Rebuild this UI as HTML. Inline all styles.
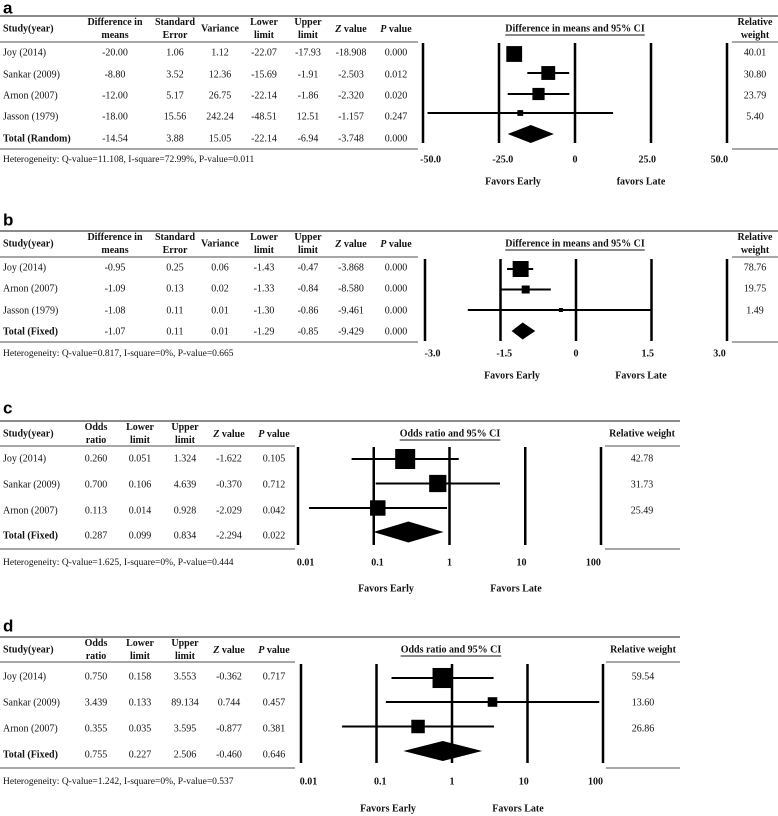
<!DOCTYPE html>
<html><head><meta charset="utf-8">
<style>
html,body{margin:0;padding:0;background:#fff;}
svg{display:block;font-family:"Liberation Serif",serif;}
.t{font-size:10px;fill:#111;}
.h{font-size:10px;font-weight:bold;fill:#111;}
.s{font-size:9.5px;fill:#111;}
.L{font-family:"Liberation Sans",sans-serif;font-weight:bold;font-size:17px;fill:#000;}
</style></head>
<body>
<svg id="fig" width="778" height="816" viewBox="0 0 778 816" xmlns="http://www.w3.org/2000/svg"></svg>
<script>
// ---------- Panel a data ----------
const aStudies=["Joy (2014)","Sankar (2009)","Arnon (2007)","Jasson (1979)","Total (Random)"];
const aDiff=["-20.00","-8.80","-12.00","-18.00","-14.54"];
const aSE=["1.06","3.52","5.17","15.56","3.88"];
const aVar=["1.12","12.36","26.75","242.24","15.05"];
const aLower=["-22.07","-15.69","-22.14","-48.51","-22.14"];
const aUpper=["-17.93","-1.91","-1.86","12.51","-6.94"];
const aZ=["-18.908","-2.503","-2.320","-1.157","-3.748"];
const aP=["0.000","0.012","0.020","0.247","0.000"];
const aWeight=["40.01","30.80","23.79","5.40",""];
const aTicks=[-50,-25,0,25,50];
const aTickLabels=["-50.0","-25.0","0","25.0","50.0"];
const aHetero="Heterogeneity: Q-value=11.108, I-square=72.99%, P-value=0.011";

// ---------- Panel b data ----------
const bStudies=["Joy (2014)","Arnon (2007)","Jasson (1979)","Total (Fixed)"];
const bDiff=["-0.95","-1.09","-1.08","-1.07"];
const bSE=["0.25","0.13","0.11","0.11"];
const bVar=["0.06","0.02","0.01","0.01"];
const bLower=["-1.43","-1.33","-1.30","-1.29"];
const bUpper=["-0.47","-0.84","-0.86","-0.85"];
const bZ=["-3.868","-8.580","-9.461","-9.429"];
const bP=["0.000","0.000","0.000","0.000"];
const bWeight=["78.76","19.75","1.49",""];
// plotted marks
const bPlotPoint=[-1.10,-1.00,-0.30,-1.06];
const bPlotLower=[-1.37,-1.50,-2.15,-1.28];
const bPlotUpper=[-0.85,-0.50,1.50,-0.81];
const bTicks=[-3,-1.5,0,1.5,3];
const bTickLabels=["-3.0","-1.5","0","1.5","3.0"];
const bHetero="Heterogeneity: Q-value=0.817, I-square=0%, P-value=0.665";

// ---------- Panel c data ----------
const cStudies=["Joy (2014)","Sankar (2009)","Arnon (2007)","Total (Fixed)"];
const cOR=["0.260","0.700","0.113","0.287"];
const cLower=["0.051","0.106","0.014","0.099"];
const cUpper=["1.324","4.639","0.928","0.834"];
const cZ=["-1.622","-0.370","-2.029","-2.294"];
const cP=["0.105","0.712","0.042","0.022"];
const cWeight=["42.78","31.73","25.49",""];
const cTicks=[0.01,0.1,1,10,100];
const cTickLabels=["0.01","0.1","1","10","100"];
const cHetero="Heterogeneity: Q-value=1.625, I-square=0%, P-value=0.444";

// ---------- Panel d data ----------
const dStudies=["Joy (2014)","Sankar (2009)","Arnon (2007)","Total (Fixed)"];
const dOR=["0.750","3.439","0.355","0.755"];
const dLower=["0.158","0.133","0.035","0.227"];
const dUpper=["3.553","89.134","3.595","2.506"];
const dZ=["-0.362","0.744","-0.877","-0.460"];
const dP=["0.717","0.457","0.381","0.646"];
const dWeight=["59.54","13.60","26.86",""];
const dTicks=[0.01,0.1,1,10,100];
const dTickLabels=["0.01","0.1","1","10","100"];
const dHetero="Heterogeneity: Q-value=1.242, I-square=0%, P-value=0.537";

const NS="http://www.w3.org/2000/svg";
const svg=document.getElementById('fig');
function mk(tag,attrs,parent){const e=document.createElementNS(NS,tag);for(const k in attrs)e.setAttribute(k,attrs[k]);(parent||svg).appendChild(e);return e;}
function txt(x,y,s,cls,anchor,parent){const e=mk('text',{x:x,y:y,class:cls,'text-anchor':anchor||'middle','dominant-baseline':'central'},parent);e.textContent=s;return e;}

function drawPanel(P){
  const g=mk('g',{});
  
  
  const lt=txt(3,P.letterY,P.id,'L','start',g);
  
  
  mk('line',{x1:0,x2:P.topRight,y1:P.top,y2:P.top,stroke:'#8a8a8a','stroke-width':2},g);
  mk('line',{x1:0,x2:P.tableRight,y1:P.hdrLine,y2:P.hdrLine,stroke:'#8a8a8a','stroke-width':1.5},g);
  mk('line',{x1:0,x2:P.tableRight,y1:P.bottom,y2:P.bottom,stroke:'#8a8a8a','stroke-width':1.5},g);
  mk('line',{x1:P.rwLeft,x2:P.topRight,y1:P.hdrLine,y2:P.hdrLine,stroke:'#8a8a8a','stroke-width':1.5},g);
  mk('line',{x1:P.rwLeft,x2:P.topRight,y1:P.bottom,y2:P.bottom,stroke:'#8a8a8a','stroke-width':1.5},g);
  const hg=mk('g',{},g);
  
  
  P.cols.forEach(c=>{
    const lines=c.lines;
    lines.forEach((ln,i)=>{
      const y=lines.length===1?P.hdr:P.hdr-6.5+13*i;
      const e=txt(c.x,y,'', 'h',c.x<10?'start':'middle',hg);
      if(ln==='Z value'||ln==='P value'){
        const t1=mk('tspan',{'font-style':'italic'},e);t1.textContent=ln[0];
        const t2=mk('tspan',{},e);t2.textContent=' value';
      } else e.textContent=ln;
    });
  });
  P.rwLines.forEach((ln,i)=>{
    const y=P.rwLines.length===1?P.hdr:P.hdr-6.5+13*i;
    txt(P.rwX,y,ln,'h','middle',hg);
  });
  const tt=txt(P.titleX,P.hdr,P.title,'h','middle',g);
  tt.setAttribute('text-decoration','underline');
  
  
  P.studies.forEach((s,i)=>{
    const rg=mk('g',{},g);
    
    
    const y=P.rows[i];
    const total=i===P.studies.length-1;
    txt(3,y,s,total?'h':'t','start',rg);
    P.cols.slice(1).forEach((c,j)=>{txt(c.x,y,P.values[j][i],'t','middle',rg);});
    if(P.weights[i]!=='')txt(P.rwX,y,P.weights[i],'t','middle',rg);
  });
  const lin=v=>P.x0+(v-P.dmin)/(P.dmax-P.dmin)*(P.x1-P.x0);
  const sc=P.log?(v=>lin(Math.log10(v))):lin;
  const mid=(P.x0+P.x1)/2;
  P.ticks.forEach((t,i)=>{
    const x=sc(t);
    const l=mk('line',{x1:x,x2:x,y1:P.plotTop,y2:P.plotBot,stroke:'#000','stroke-width':2.5},g);
    
    
    const tl=txt(mid+(x-mid)*0.95,P.axisY,P.tickLabels[i],'h','middle',g);
    
    
  });
  const n=P.studies.length;
  for(let i=0;i<n-1;i++){
    const y=P.marks[i];
    const l=mk('line',{x1:sc(P.lo[i]),x2:sc(P.hi[i]),y1:y,y2:y,stroke:'#000','stroke-width':2},g);
    
    
    const sz=Math.max(4,P.k*Math.sqrt(parseFloat(P.weights[i])));
    const r=mk('rect',{x:sc(P.pt[i])-sz/2,y:y-sz/2,width:sz,height:sz,fill:'#000'},g);
    
    
  }
  const yd=P.marks[n-1],xl=sc(P.lo[n-1]),xr=sc(P.hi[n-1]),xc=sc(P.pt[n-1]);
  const dm=mk('polygon',{points:`${xl},${yd} ${xc},${yd-P.dh} ${xr},${yd} ${xc},${yd+P.dh}`,fill:'#000'},g);
  
  
  const he=txt(3,P.axisY,P.hetero,'s','start',g);
  
  
  const fe=txt(P.favE,P.favY,'Favors Early','h','middle',g);
  
  
  const fl=txt(P.favL,P.favY,P.lateText,'h','middle',g);
  
  
}

const abCols=[{x:3,lines:["Study(year)"]},{x:115,lines:["Difference in","means"]},{x:175,lines:["Standard","Error"]},{x:220,lines:["Variance"]},{x:264,lines:["Lower","limit"]},{x:308,lines:["Upper","limit"]},{x:351,lines:["Z value"]},{x:396,lines:["P value"]}];
const cdCols=[{x:3,lines:["Study(year)"]},{x:96,lines:["Odds","ratio"]},{x:140,lines:["Lower","limit"]},{x:185,lines:["Upper","limit"]},{x:229,lines:["Z value"]},{x:274,lines:["P value"]}];

drawPanel({id:'a',letterY:8,top:16,hdr:29,hdrLine:42,bottom:149,plotTop:43,plotBot:143,axisY:160,favY:182,
  rows:[53,75,96,117,139],marks:[54,73,94,113,134],topRight:778,tableRight:418,rwLeft:732,rwX:755,rwLines:["Relative","weight"],
  cols:abCols,studies:aStudies,values:[aDiff,aSE,aVar,aLower,aUpper,aZ,aP],weights:aWeight,
  title:"Difference in means and 95% CI",titleX:575,x0:423,x1:727,dmin:-50,dmax:50,log:false,
  ticks:aTicks,tickLabels:aTickLabels,pt:aDiff.map(Number),lo:aLower.map(Number),hi:aUpper.map(Number),
  k:2.5,dh:9,hetero:aHetero,favE:513,favL:641,lateText:"favors Late"});

drawPanel({id:'b',letterY:220,top:231,hdr:244,hdrLine:257,bottom:342,plotTop:259,plotBot:341,axisY:354,favY:376,
  rows:[268,289,311,332],marks:[269,289.5,310,331],topRight:778,tableRight:418,rwLeft:732,rwX:755,rwLines:["Relative","weight"],
  cols:abCols,studies:bStudies,values:[bDiff,bSE,bVar,bLower,bUpper,bZ,bP],weights:bWeight,
  title:"Difference in means and 95% CI",titleX:575,x0:425,x1:727,dmin:-3,dmax:3,log:false,
  ticks:bTicks,tickLabels:bTickLabels,pt:bPlotPoint,lo:bPlotLower,hi:bPlotUpper,
  k:1.8,dh:8.5,hetero:bHetero,favE:512,favL:641,lateText:"Favors Late"});

drawPanel({id:'c',letterY:408,top:421,hdr:434,hdrLine:446,bottom:549,plotTop:447,plotBot:545,axisY:563,favY:589,
  rows:[459,485,511,536],marks:[459,483.5,508,532],topRight:680,tableRight:295,rwLeft:605,rwX:642,rwLines:["Relative weight"],
  cols:cdCols,studies:cStudies,values:[cOR,cLower,cUpper,cZ,cP],weights:cWeight,
  title:"Odds ratio and 95% CI",titleX:450,x0:298,x1:601,dmin:-2,dmax:2,log:true,
  ticks:cTicks,tickLabels:cTickLabels,pt:cOR.map(Number),lo:cLower.map(Number),hi:cUpper.map(Number),
  k:3.06,dh:10.5,hetero:cHetero,favE:386,favL:516,lateText:"Favors Late"});

drawPanel({id:'d',letterY:626,top:637,hdr:650,hdrLine:662,bottom:768,plotTop:664,plotBot:763,axisY:782,favY:809,
  rows:[677,703,729,755],marks:[678,702,726.5,751],topRight:680,tableRight:295,rwLeft:606,rwX:643,rwLines:["Relative weight"],
  cols:cdCols,studies:dStudies,values:[dOR,dLower,dUpper,dZ,dP],weights:dWeight,
  title:"Odds ratio and 95% CI",titleX:451,x0:301,x1:603,dmin:-2,dmax:2,log:true,
  ticks:dTicks,tickLabels:dTickLabels,pt:dOR.map(Number),lo:dLower.map(Number),hi:dUpper.map(Number),
  k:2.6,dh:10,hetero:dHetero,favE:388,favL:518,lateText:"Favors Late"});
</script>
</body></html>
